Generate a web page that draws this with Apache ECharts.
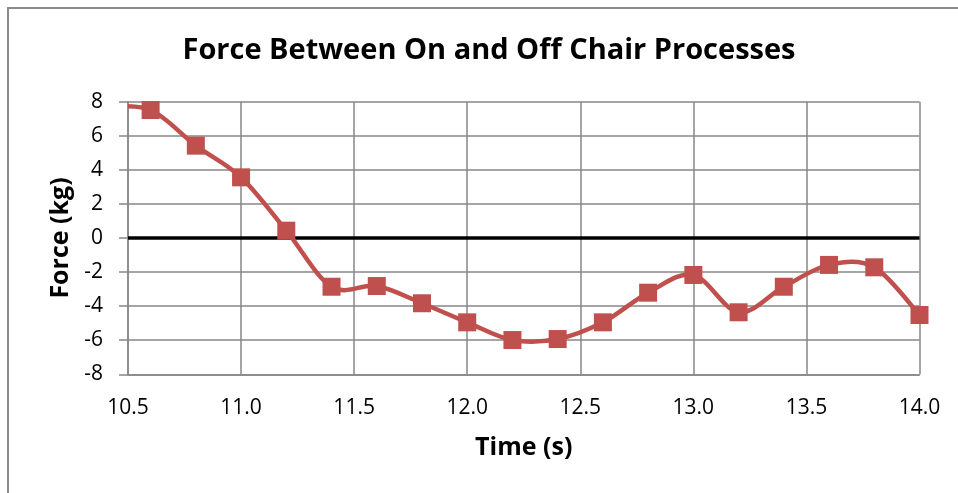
<!DOCTYPE html>
<html>
<head>
<meta charset="utf-8">
<script src="https://cdn.jsdelivr.net/npm/echarts@6/dist/echarts.min.js"></script>
<style>
html,body{margin:0;padding:0;background:#fff;}
#chart{width:958px;height:493px;}
</style>
</head>
<body>
<div id="chart"></div>
<script>
// Data
var timeValues = [10.4, 10.6, 10.8, 11.0, 11.2, 11.4, 11.6, 11.8, 12.0, 12.2, 12.4, 12.6, 12.8, 13.0, 13.2, 13.4, 13.6, 13.8, 14.0];
var forceValues = [7.7, 7.51, 5.42, 3.56, 0.43, -2.86, -2.82, -3.83, -4.95, -5.99, -5.93, -4.95, -3.21, -2.17, -4.36, -2.86, -1.58, -1.72, -4.52];
var titleText = 'Force Between On and Off Chair Processes';
var xAxisName = 'Time (s)';
var yAxisName = 'Force (kg)';

var seriesData = timeValues.map(function (t, i) { return [t, forceValues[i]]; });

var FONT = '"Open Sans", "Noto Sans", sans-serif';
var GRID_COLOR = '#878787';
var SERIES_COLOR = '#C0504D';

// Excel-style smoothed segment (Catmull-Rom via Bezier), positioned with the axes' scales
function renderSmoothSegment(params, api) {
  var i = params.dataIndex;
  var n = seriesData.length;
  if (i >= n - 1) { return null; }
  function pt(j) {
    j = Math.max(0, Math.min(n - 1, j));
    return api.coord([seriesData[j][0], seriesData[j][1]]);
  }
  var p0 = pt(i - 1), p1 = pt(i), p2 = pt(i + 1), p3 = pt(i + 2);
  return {
    type: 'bezierCurve',
    shape: {
      x1: p1[0], y1: p1[1],
      cpx1: p1[0] + (p2[0] - p0[0]) / 6, cpy1: p1[1] + (p2[1] - p0[1]) / 6,
      cpx2: p2[0] - (p3[0] - p1[0]) / 6, cpy2: p2[1] - (p3[1] - p1[1]) / 6,
      x2: p2[0], y2: p2[1]
    },
    style: {fill: null, stroke: SERIES_COLOR, lineWidth: 4.5, lineCap: 'round'}
  };
}

var chart = echarts.init(document.getElementById('chart'), null, {renderer: 'canvas'});
chart.setOption({
  animation: false,
  backgroundColor: '#ffffff',
  title: {
    text: titleText,
    left: 484,
    textAlign: 'center',
    top: 31,
    textStyle: {fontFamily: FONT, fontWeight: 'bold', fontSize: 29, color: '#000'}
  },
  graphic: [{
    type: 'rect',
    shape: {x: 8, y: 8, width: 1000, height: 600},
    style: {fill: 'none', stroke: '#8a8a8a', lineWidth: 2},
    silent: true
  }],
  grid: {left: 128, right: 38.5, top: 101.7, bottom: 118.7},
  xAxis: {
    type: 'value',
    min: 10.5,
    max: 14.0,
    interval: 0.5,
    name: xAxisName,
    nameLocation: 'middle',
    nameGap: 61,
    nameTextStyle: {fontFamily: FONT, fontWeight: 'bold', fontSize: 25, color: '#000'},
    axisLine: {show: true, onZero: false, lineStyle: {color: GRID_COLOR, width: 1.5}},
    axisTick: {show: false},
    axisLabel: {
      margin: 23,
      fontFamily: FONT, fontSize: 21, color: '#000',
      formatter: function (v) { return v.toFixed(1); }
    },
    splitLine: {show: true, lineStyle: {color: GRID_COLOR, width: 1.5}}
  },
  yAxis: {
    type: 'value',
    min: -8,
    max: 8,
    interval: 2,
    name: yAxisName,
    nameLocation: 'middle',
    nameGap: 55,
    nameTextStyle: {fontFamily: FONT, fontWeight: 'bold', fontSize: 25, color: '#000'},
    axisLine: {show: true, lineStyle: {color: GRID_COLOR, width: 1.5}},
    axisTick: {show: true, length: 9, lineStyle: {color: GRID_COLOR, width: 1.5}},
    axisLabel: {margin: 25, fontFamily: FONT, fontSize: 21, color: '#000'},
    splitLine: {show: true, lineStyle: {color: GRID_COLOR, width: 1.5}}
  },
  series: [{
    type: 'custom',
    name: 'Force',
    data: seriesData,
    clip: true,
    renderItem: renderSmoothSegment,
    z: 4,
    silent: true
  }, {
    type: 'scatter',
    name: 'Force',
    data: seriesData,
    clip: true,
    symbol: 'rect',
    symbolSize: 18,
    itemStyle: {color: SERIES_COLOR, opacity: 1},
    z: 5,
    markLine: {
      silent: true,
      symbol: ['none', 'none'],
      label: {show: false},
      lineStyle: {color: '#000', width: 3.5, type: 'solid'},
      data: [{yAxis: 0}],
      z: 3
    }
  }]
});
</script>
</body>
</html>
